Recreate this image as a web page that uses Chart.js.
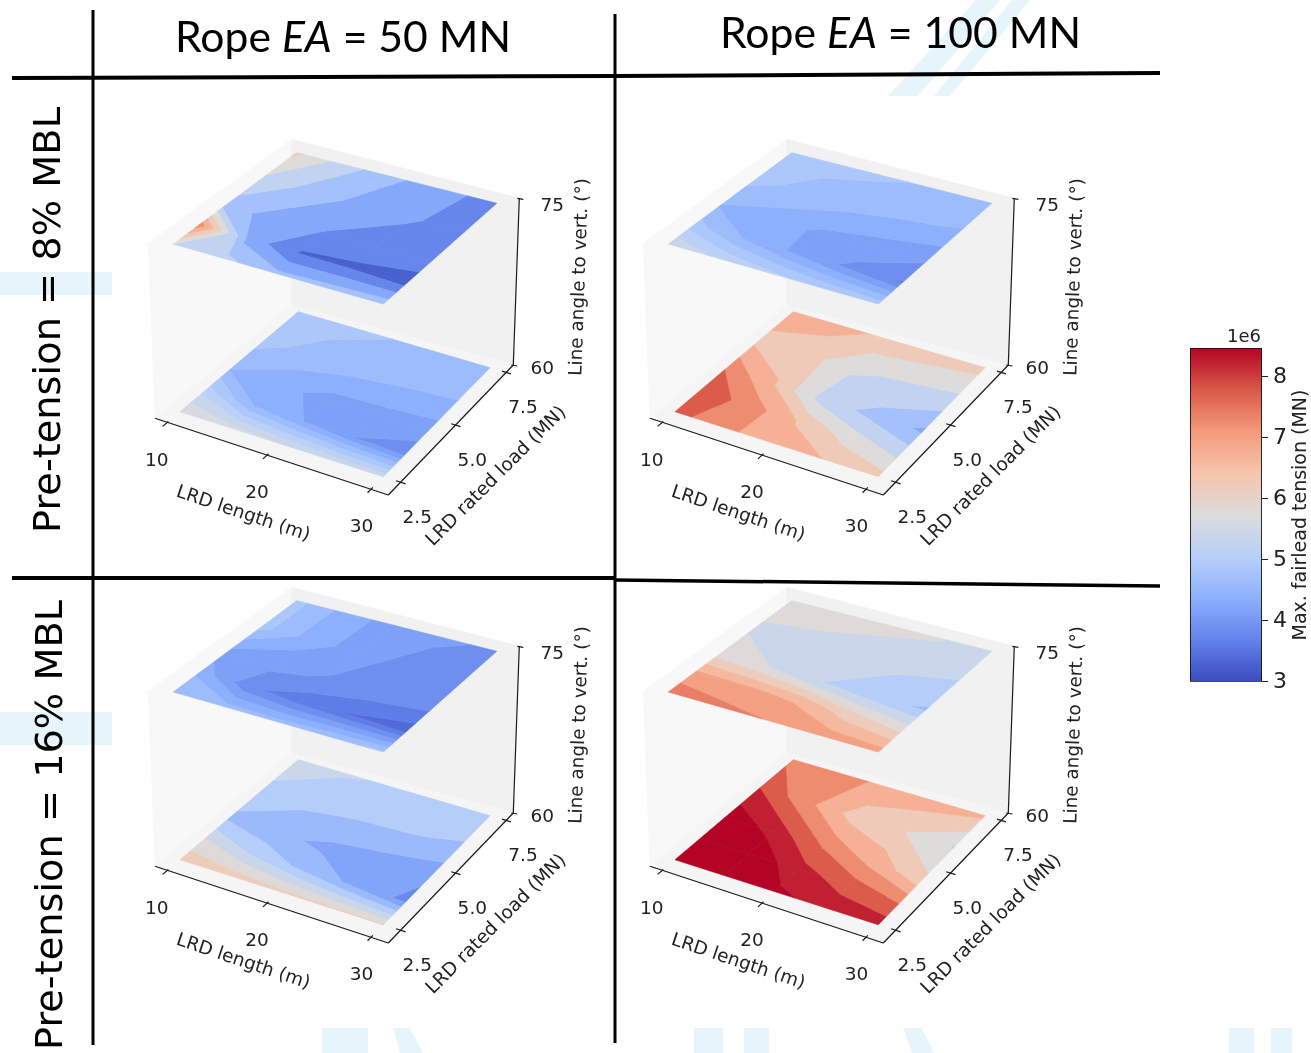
<!DOCTYPE html>
<html>
<head>
<meta charset="utf-8">
<title>Max. fairlead tension</title>
<script src="https://cdn.jsdelivr.net/npm/chart.js@4"></script>
<style>
  html, body { margin: 0; padding: 0; background: #fff; width: 1311px; height: 1053px; overflow: hidden; }
  canvas { position: absolute; filter: blur(0.45px); }
  svg { position: absolute; left: 0; top: 0; }
  #frame { z-index: 5; pointer-events: none; }
</style>
</head>
<body>
<svg id="back" width="1311" height="1053">
  <g fill="#e6f5fb">
    <polygon points="888,96 918,96 1000,0 976,0"/>
    <polygon points="934,96 950,96 1030,0 1012,0"/>
    <rect x="0" y="272" width="112" height="23"/>
    <rect x="0" y="712" width="112" height="33"/>
    <rect x="322" y="1028" width="46" height="25"/>
    <polygon points="393,1028 410,1028 423,1053 400,1053"/>
    <rect x="694" y="1028" width="29" height="25"/>
    <rect x="744" y="1028" width="25" height="25"/>
    <polygon points="903,1028 922,1028 934,1053 912,1053"/>
    <rect x="1229" y="1028" width="25" height="25"/>
    <rect x="1271" y="1028" width="21" height="25"/>
  </g>
</svg>
<canvas id="p1" width="510" height="470" style="left:100px;top:100px"></canvas>
<canvas id="p2" width="510" height="470" style="left:595px;top:100px"></canvas>
<canvas id="p3" width="510" height="470" style="left:100px;top:548px"></canvas>
<canvas id="p4" width="510" height="470" style="left:595px;top:548px"></canvas>
<canvas id="cbar" width="141" height="380" style="left:1170px;top:320px"></canvas>
<svg id="frame" width="1311" height="1053">
  <g stroke="#000" fill="none">
    <line x1="93" y1="10" x2="93" y2="1045" stroke-width="3"/>
    <line x1="615" y1="14" x2="615" y2="1043" stroke-width="3"/>
    <line x1="12" y1="78" x2="615" y2="76" stroke-width="4"/>
    <line x1="615" y1="76" x2="1160" y2="73" stroke-width="4"/>
    <line x1="12" y1="578" x2="615" y2="578" stroke-width="4"/>
    <line x1="615" y1="580" x2="1160" y2="586" stroke-width="3.5"/>
  </g>
  <g font-family="Lato" font-size="42" fill="#000">
    <text x="175" y="52" textLength="336" lengthAdjust="spacingAndGlyphs">Rope <tspan font-style="italic">EA</tspan> = 50 MN</text>
    <text x="720" y="48" textLength="361" lengthAdjust="spacingAndGlyphs">Rope <tspan font-style="italic">EA</tspan> = 100 MN</text>
  </g>
  <g font-family="DejaVu Sans" font-size="38" fill="#000">
    <text transform="translate(60,533) rotate(-90)" textLength="426" lengthAdjust="spacingAndGlyphs">Pre-tension = 8% MBL</text>
    <text transform="translate(62,1050) rotate(-90)" textLength="450" lengthAdjust="spacingAndGlyphs">Pre-tension = 16% MBL</text>
  </g>
</svg>
<script>
// grid of the runs
const lrdLength = [10, 15, 20, 25, 30];
const ratedLoad = [2.5, 3.5, 4.5, 6, 7.5];
const lengthTicks = [10, 20, 30];
const loadTicks = [2.5, 5, 7.5];
const tensionTicks = [3, 4, 5, 6, 7, 8];

// max fairlead tension (x 1e6), rows = rated load, columns = LRD length
const ea50pt8a75 = [
  [5.5, 5.15, 4.62, 4.7, 4.83],
  [7.3, 4.3, 3.45, 3.4, 3.25],
  [4.75, 4.3, 3.97, 3.8, 3.75],
  [5.4, 4.8, 4.35, 4.05, 3.8],
  [6.1, 5.24, 4.6, 4.15, 3.8]
];
const ea50pt8a60 = [
  [5.75, 5.6, 5.5, 5.45, 5.4],
  [5.15, 4.5, 4.25, 4.0, 3.85],
  [4.5, 4.35, 4.15, 4.15, 4.12],
  [4.85, 4.65, 4.62, 4.55, 4.52],
  [4.95, 4.85, 4.75, 4.7, 4.65]
];
const ea100pt8a75 = [
  [5.45, 5.2, 5.05, 4.95, 4.9],
  [4.85, 4.48, 4.2, 3.95, 3.72],
  [4.48, 4.4, 4.2, 4.13, 4.02],
  [4.85, 4.65, 4.6, 4.52, 4.48],
  [5.0, 4.85, 4.78, 4.7, 4.65]
];
const ea100pt8a60 = [
  [7.7, 7.1, 6.75, 6.48, 6.2],
  [7.85, 7.3, 6.45, 5.75, 5.3],
  [7.5, 6.55, 5.3, 4.85, 4.4],
  [6.3, 6.25, 5.55, 5.45, 5.38],
  [6.9, 6.65, 6.4, 6.3, 6.19]
];
const ea50pt16a75 = [
  [4.75, 4.6, 4.6, 4.7, 4.8],
  [4.45, 3.8, 3.6, 3.48, 3.35],
  [4.1, 4.05, 3.97, 3.85, 3.78],
  [4.85, 4.38, 4.12, 3.9, 3.88],
  [4.85, 4.4, 4.13, 4.05, 3.95]
];
const ea50pt16a60 = [
  [6.3, 6.2, 6.1, 6.05, 6.0],
  [5.6, 5.1, 4.7, 4.3, 3.9],
  [4.7, 4.5, 4.3, 4.2, 4.05],
  [5.15, 4.9, 4.85, 4.83, 4.75],
  [5.35, 5.25, 5.15, 5.1, 5.05]
];
const ea100pt16a75 = [
  [7.45, 7.3, 7.18, 7.05, 7.0],
  [6.9, 6.85, 6.75, 6.2, 5.9],
  [5.75, 5.6, 5.22, 4.95, 4.75],
  [5.55, 5.5, 5.35, 5.3, 5.2],
  [5.8, 5.8, 5.75, 5.63, 5.4]
];
const ea100pt16a60 = [
  [9.2, 9.0, 8.6, 8.35, 8.3],
  [9.2, 8.9, 8.2, 7.75, 7.4],
  [8.9, 8.35, 7.5, 6.85, 6.1],
  [8.0, 7.15, 6.25, 6.0, 5.45],
  [7.35, 7.15, 6.9, 6.75, 6.6]
];

// contour levels of each plot
const levelsHalf = [3, 3.5, 4, 4.5, 5, 5.5, 6, 6.5, 7, 7.5, 8, 8.5, 9.5];
const levelsQuarter = [3.25, 3.5, 3.75, 4, 4.25, 4.5, 4.75, 5, 5.25, 5.5, 5.75, 6];
const levelsFifths = [3.6, 4, 4.4, 4.8, 5.2, 5.6, 6, 6.4, 6.8];
const levelsPt16 = [4.4, 4.8, 5.2, 5.6, 6, 6.4, 6.8, 7.2, 7.6];

const colorMin = 3, colorMax = 8.475;
const coolwarm = ["#3b4cc0", "#6282ea", "#8db0fe", "#b7cff9", "#dddcdc", "#f5c4ac", "#f49a7b", "#d95847", "#b40426"];

function hexRgb(h) {
  return [1, 3, 5].map(i => parseInt(h.substr(i, 2), 16));
}
function colorAt(value) {
  let t = (value - colorMin) / (colorMax - colorMin);
  t = Math.min(1, Math.max(0, t)) * (coolwarm.length - 1);
  const i = Math.min(coolwarm.length - 2, Math.floor(t));
  const a = hexRgb(coolwarm[i]), b = hexRgb(coolwarm[i + 1]);
  const c = a.map((v, k) => Math.round(v + (b[k] - v) * (t - i)));
  return "rgb(" + c.join(",") + ")";
}

// 3d view: the two surfaces in panel pixels (10/2.5, 30/2.5, 30/7.5, 10/7.5)
const quadTop = [[73.3, 144], [283.3, 204], [396.7, 103.3], [196.7, 52.7]];
const quadBottom = [[80, 311.7], [283.3, 376.7], [390, 267.7], [198.3, 211.7]];
const lenLim = [8.8, 31.6], loadLim = [1.95, 8.05];

// box corners of the 3d axes, panel pixels
const floorL = { x: 55, y: 318.3 }, floorF = { x: 288.3, y: 395 }, floorR = { x: 413.3, y: 265 }, floorB = { x: 191.7, y: 205 };
const roofL = { x: 48.3, y: 143.3 }, roofR = { x: 419.3, y: 98.3 }, roofB = { x: 191.7, y: 39.3 };

function homography(q) {
  const [x0, y0] = q[0], [x1, y1] = q[1], [x2, y2] = q[2], [x3, y3] = q[3];
  const dx1 = x1 - x2, dx2 = x3 - x2, sx = x0 - x1 + x2 - x3;
  const dy1 = y1 - y2, dy2 = y3 - y2, sy = y0 - y1 + y2 - y3;
  const det = dx1 * dy2 - dx2 * dy1;
  const g = (sx * dy2 - dx2 * sy) / det, h = (dx1 * sy - sx * dy1) / det;
  const a = x1 - x0 + g * x1, b = x3 - x0 + h * x3;
  const d = y1 - y0 + g * y1, e = y3 - y0 + h * y3;
  return (s, t) => {
    const w = g * s + h * t + 1;
    return [(a * s + b * t + x0) / w, (d * s + e * t + y0) / w];
  };
}
const mapTop = homography(quadTop), mapBottom = homography(quadBottom);

function project(len, load, angle) {
  const s = (len - 10) / 20, t = (load - 2.5) / 5, m = (angle - 60) / 15;
  const p = mapTop(s, t), q = mapBottom(s, t);
  return { x: q[0] + (p[0] - q[0]) * m, y: q[1] + (p[1] - q[1]) * m };
}

// clip a polygon of {len, load, v} against one contour level
function clip(poly, level, keepAbove) {
  const out = [];
  poly.forEach((a, i) => {
    const b = poly[(i + 1) % poly.length];
    const aIn = keepAbove ? a.v >= level : a.v <= level;
    const bIn = keepAbove ? b.v >= level : b.v <= level;
    if (aIn) out.push(a);
    if (aIn !== bIn) {
      const f = (level - a.v) / (b.v - a.v);
      out.push({ len: a.len + (b.len - a.len) * f, load: a.load + (b.load - a.load) * f, v: level });
    }
  });
  return out;
}

function polygonDataset(points, color) {
  return {
    data: points.concat([points[0]]),
    showLine: true, fill: "shape", tension: 0,
    backgroundColor: color, borderColor: color, borderWidth: 0.7,
    pointRadius: 0
  };
}

function contourDatasets(grid, levels, angle) {
  const sets = [];
  for (let r = 0; r < ratedLoad.length - 1; r++) {
    for (let c = 0; c < lrdLength.length - 1; c++) {
      const cell = [[r, c], [r, c + 1], [r + 1, c + 1], [r + 1, c]].map(([i, j]) => ({
        len: lrdLength[j], load: ratedLoad[i], v: grid[i][j]
      }));
      for (let k = 0; k < levels.length - 1; k++) {
        let poly = clip(cell, levels[k], true);
        if (poly.length) poly = clip(poly, levels[k + 1], false);
        if (poly.length < 3) continue;
        const color = colorAt((levels[k] + levels[k + 1]) / 2);
        sets.push(polygonDataset(poly.map(p => project(p.len, p.load, angle)), color));
      }
    }
  }
  return sets;
}

function lineDataset(points, width) {
  return { data: points, showLine: true, fill: false, borderColor: "#1a1a1a", borderWidth: width || 1.2, pointRadius: 0, tension: 0 };
}

function boxDatasets() {
  return [
    polygonDataset([floorL, roofL, roofB, floorB], "#f8f8f8"),
    polygonDataset([floorB, roofB, roofR, floorR], "#f1f1f1"),
    polygonDataset([floorL, floorF, floorR, floorB], "#f5f5f5")
  ];
}

function axisDatasets() {
  const x1 = lenLim[1], y0 = loadLim[0];
  const sets = [
    lineDataset([floorL, floorF]),
    lineDataset([floorF, floorR]),
    lineDataset([floorR, roofR])
  ];
  lengthTicks.forEach(v => sets.push(lineDataset([project(v, y0 + 0.1, 60), project(v, y0 - 0.12, 60)])));
  loadTicks.forEach(v => sets.push(lineDataset([project(x1 - 0.4, v, 60), project(x1 + 0.5, v, 60)])));
  [floorR, roofR].forEach(c => sets.push(lineDataset([{ x: c.x - 2, y: c.y }, { x: c.x + 4, y: c.y + 1 }])));
  return sets;
}

function drawText(ctx, text, x, y, size, angle) {
  ctx.save();
  ctx.translate(x, y);
  ctx.rotate((angle || 0) * Math.PI / 180);
  ctx.font = size + "px 'DejaVu Sans'";
  ctx.fillStyle = "#222";
  ctx.textAlign = "center";
  ctx.textBaseline = "middle";
  ctx.fillText(text, 0, 0);
  ctx.restore();
}

const axisLabels = {
  id: "axisLabels",
  afterDraw(chart) {
    const ctx = chart.ctx, sx = chart.scales.x, sy = chart.scales.y;
    const x1 = lenLim[1], y0 = loadLim[0];
    const put = (p, dx, dy, label) => drawText(ctx, label, sx.getPixelForValue(p.x) + dx, sy.getPixelForValue(p.y) + dy, 18.5);
    lengthTicks.forEach(v => put(project(v, y0, 60), -9, 37, String(v)));
    loadTicks.forEach(v => put(project(x1, v, 60), 17, 36, v.toFixed(1)));
    put(floorR, 29, 4, "60");
    put(roofR, 33, 8, "75");
    drawText(ctx, "LRD length (m)", 143, 414, 18.4, 18.5);
    drawText(ctx, "LRD rated load (MN)", 396.5, 376.5, 18.6, -45);
    drawText(ctx, "Line angle to vert. (°)", 480, 177, 18.4, -88);
  }
};

function drawPanel(id, upper, upperLevels, lower, lowerLevels) {
  const sets = boxDatasets()
    .concat(contourDatasets(lower, lowerLevels, 60))
    .concat(contourDatasets(upper, upperLevels, 75))
    .concat(axisDatasets());
  // chart.js paints the first dataset last
  sets.reverse();
  new Chart(document.getElementById(id), {
    type: "scatter",
    data: { datasets: sets },
    plugins: [axisLabels],
    options: {
      responsive: false,
      animation: false,
      layout: { padding: 0 },
      plugins: { legend: { display: false }, tooltip: { enabled: false } },
      scales: {
        x: { type: "linear", display: false, min: 0, max: 510 },
        y: { type: "linear", display: false, min: 0, max: 470, reverse: true }
      }
    }
  });
}

drawPanel("p1", ea50pt8a75, levelsHalf, ea50pt8a60, levelsQuarter);
drawPanel("p2", ea100pt8a75, levelsQuarter, ea100pt8a60, levelsHalf);
drawPanel("p3", ea50pt16a75, levelsQuarter, ea50pt16a60, levelsFifths);
drawPanel("p4", ea100pt16a75, levelsPt16, ea100pt16a60, levelsHalf);

// colour bar
new Chart(document.getElementById("cbar"), {
  type: "bar",
  data: {
    labels: ["tension"],
    datasets: [{
      data: [[colorMin, colorMax]],
      barPercentage: 1,
      categoryPercentage: 1,
      borderColor: "#111",
      borderWidth: 1.2,
      borderSkipped: false,
      backgroundColor(c) {
        const a = c.chart.chartArea;
        if (!a) return "#ccc";
        const g = c.chart.ctx.createLinearGradient(0, a.bottom, 0, a.top);
        coolwarm.forEach((col, i) => g.addColorStop(i / (coolwarm.length - 1), col));
        return g;
      }
    }]
  },
  plugins: [{
    id: "barLabels",
    afterDraw(chart) {
      drawText(chart.ctx, "1e6", 74, 17, 18);
      drawText(chart.ctx, "Max. fairlead tension (MN)", 131, 195, 19, -90);
    }
  }],
  options: {
    responsive: false,
    animation: false,
    layout: { padding: { left: 20, top: 28, bottom: 17, right: 0 } },
    plugins: { legend: { display: false }, tooltip: { enabled: false } },
    scales: {
      x: { display: false },
      y: {
        position: "right",
        min: colorMin,
        max: colorMax,
        afterBuildTicks(axis) { axis.ticks = tensionTicks.map(v => ({ value: v })); },
        afterFit(axis) { axis.width = 49; },
        border: { display: false },
        grid: { drawOnChartArea: false, tickLength: 6, color: "#222" },
        ticks: { color: "#222", padding: 5, font: { family: "DejaVu Sans", size: 22 } }
      }
    }
  }
});
</script>
</body>
</html>
